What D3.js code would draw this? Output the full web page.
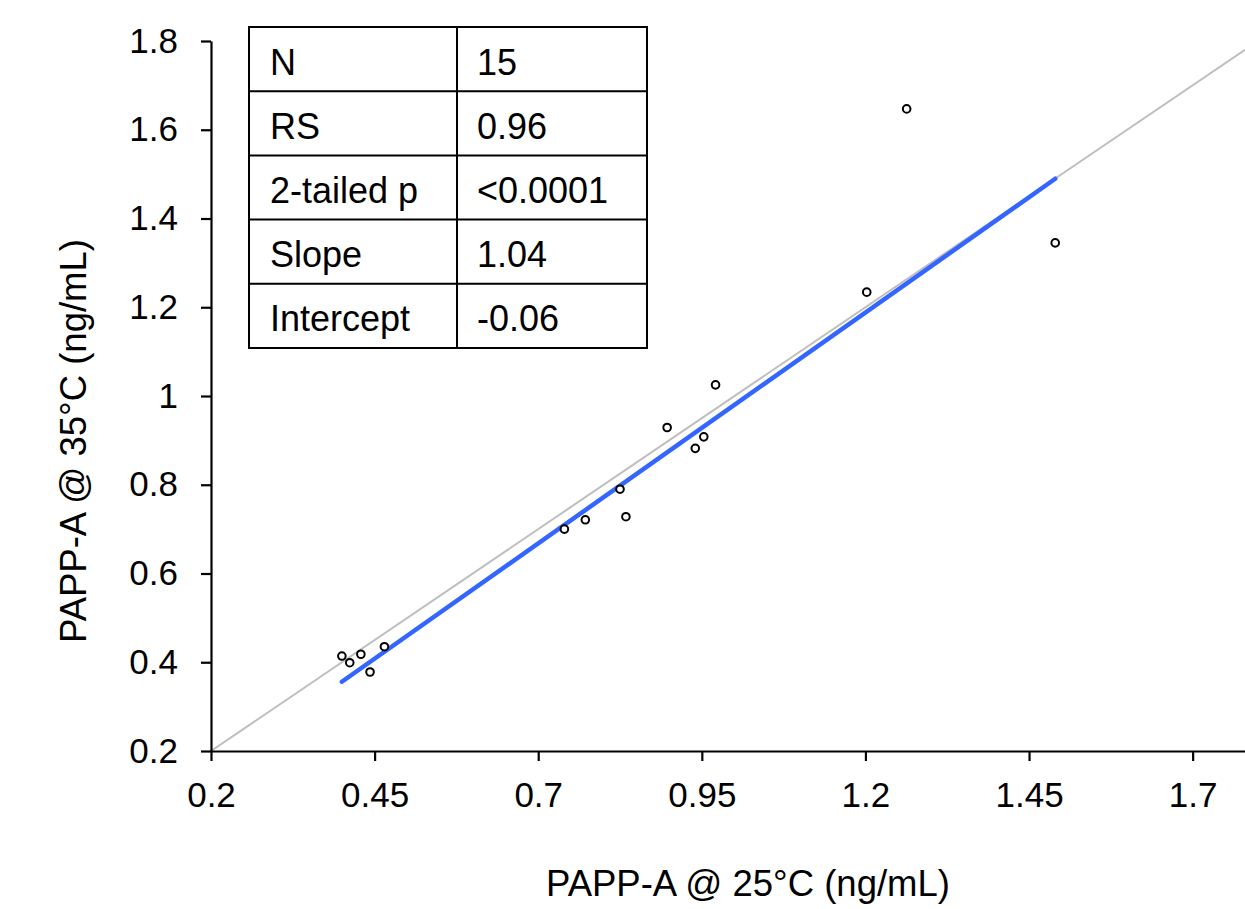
<!DOCTYPE html>
<html>
<head>
<meta charset="utf-8">
<script src="https://cdn.jsdelivr.net/npm/d3@7"></script>
<style>
  body { margin: 0; background: #fff; }
  svg { font-family: "Liberation Sans", Arial, sans-serif; }
</style>
</head>
<body>
<div id="chart"></div>
<script>
// PAPP-A measured at 25°C (x) and 35°C (y), ng/mL
var x25 = [0.400, 0.412, 0.429, 0.443, 0.465, 0.740, 0.772, 0.825, 0.834, 0.897, 0.940, 0.953, 0.971, 1.202, 1.263, 1.490];
var y35 = [0.414, 0.399, 0.418, 0.378, 0.435, 0.700, 0.721, 0.790, 0.728, 0.929, 0.882, 0.908, 1.025, 1.234, 1.647, 1.345];

var xTicks = [0.2, 0.45, 0.7, 0.95, 1.2, 1.45, 1.7];
var xTickLabels = ["0.2", "0.45", "0.7", "0.95", "1.2", "1.45", "1.7"];
var yTicks = [0.2, 0.4, 0.6, 0.8, 1.0, 1.2, 1.4, 1.6, 1.8];
var yTickLabels = ["0.2", "0.4", "0.6", "0.8", "1", "1.2", "1.4", "1.6", "1.8"];

var statNames = ["N", "RS", "2-tailed p", "Slope", "Intercept"];
var statValues = ["15", "0.96", "<0.0001", "1.04", "-0.06"];

var fitSlope = 1.04;
var fitIntercept = -0.06;

var w = 1245, h = 909;
var svg = d3.select("#chart").append("svg").attr("width", w).attr("height", h);

var x = d3.scaleLinear().domain([0.2, 1.78]).range([211, 1245]);
var y = d3.scaleLinear().domain([0.2, 1.8]).range([751, 41]);

// identity line
svg.append("line")
    .attr("x1", x(0.2)).attr("y1", y(0.2))
    .attr("x2", x(1.78)).attr("y2", y(1.78))
    .attr("stroke", "#bebebe")
    .attr("stroke-width", 2);

// regression line over the data range
var xmin = d3.min(x25), xmax = d3.max(x25);
svg.append("line")
    .attr("x1", x(xmin)).attr("y1", y(fitSlope * xmin + fitIntercept))
    .attr("x2", x(xmax)).attr("y2", y(fitSlope * xmax + fitIntercept))
    .attr("stroke", "#3366ff")
    .attr("stroke-width", 4.5)
    .attr("stroke-linecap", "round");

// points
svg.selectAll("circle.pt")
    .data(x25)
    .enter()
    .append("circle")
    .attr("class", "pt")
    .attr("cx", function(d) { return x(d); })
    .attr("cy", function(d, i) { return y(y35[i]); })
    .attr("r", 3.8)
    .attr("fill", "#fff")
    .attr("stroke", "#000")
    .attr("stroke-width", 2);

// axes
var xAxis = d3.axisBottom(x).tickValues(xTicks)
    .tickFormat(function(d, i) { return xTickLabels[i]; })
    .tickSize(10).tickSizeOuter(0).tickPadding(21);
var yAxis = d3.axisLeft(y).tickValues(yTicks)
    .tickFormat(function(d, i) { return yTickLabels[i]; })
    .tickSize(10).tickSizeOuter(0).tickPadding(23);

var gx = svg.append("g").attr("transform", "translate(0,751)").call(xAxis);
var gy = svg.append("g").attr("transform", "translate(211,0)").call(yAxis);

[gx, gy].forEach(function(g) {
    g.select(".domain").attr("stroke", "#000").attr("stroke-width", 2.2);
    g.selectAll(".tick line").attr("stroke", "#000").attr("stroke-width", 2.2);
    g.selectAll(".tick text")
        .attr("fill", "#000")
        .attr("font-size", "35px")
        .attr("font-family", "Liberation Sans, Arial, sans-serif");
});

// axis titles
svg.append("text")
    .text("PAPP-A @ 25°C (ng/mL)")
    .attr("x", 748).attr("y", 896)
    .attr("text-anchor", "middle")
    .attr("font-size", "36.5px")
    .attr("fill", "#000");

svg.append("text")
    .text("PAPP-A @ 35°C (ng/mL)")
    .attr("transform", "translate(86,441) rotate(-90)")
    .attr("text-anchor", "middle")
    .attr("font-size", "36.5px")
    .attr("fill", "#000");

// stats table
var tx0 = 249, tx1 = 457, tx2 = 647, ty0 = 27, rowH = 64.2;
var table = svg.append("g");

table.selectAll("line.row")
    .data(d3.range(statNames.length + 1))
    .enter()
    .append("line")
    .attr("x1", tx0).attr("x2", tx2)
    .attr("y1", function(d) { return ty0 + d * rowH; })
    .attr("y2", function(d) { return ty0 + d * rowH; })
    .attr("stroke", "#000").attr("stroke-width", 2);

table.selectAll("line.col")
    .data([tx0, tx1, tx2])
    .enter()
    .append("line")
    .attr("x1", function(d) { return d; }).attr("x2", function(d) { return d; })
    .attr("y1", ty0 - 1).attr("y2", ty0 + statNames.length * rowH + 1)
    .attr("stroke", "#000").attr("stroke-width", 2);

table.selectAll("text.name")
    .data(statNames)
    .enter()
    .append("text")
    .text(function(d) { return d; })
    .attr("x", 270)
    .attr("y", function(d, i) { return ty0 + i * rowH + 47.5; })
    .attr("font-size", "36px")
    .attr("fill", "#000");

table.selectAll("text.val")
    .data(statValues)
    .enter()
    .append("text")
    .text(function(d) { return d; })
    .attr("x", 477)
    .attr("y", function(d, i) { return ty0 + i * rowH + 47.5; })
    .attr("font-size", "36px")
    .attr("fill", "#000");
</script>
</body>
</html>
